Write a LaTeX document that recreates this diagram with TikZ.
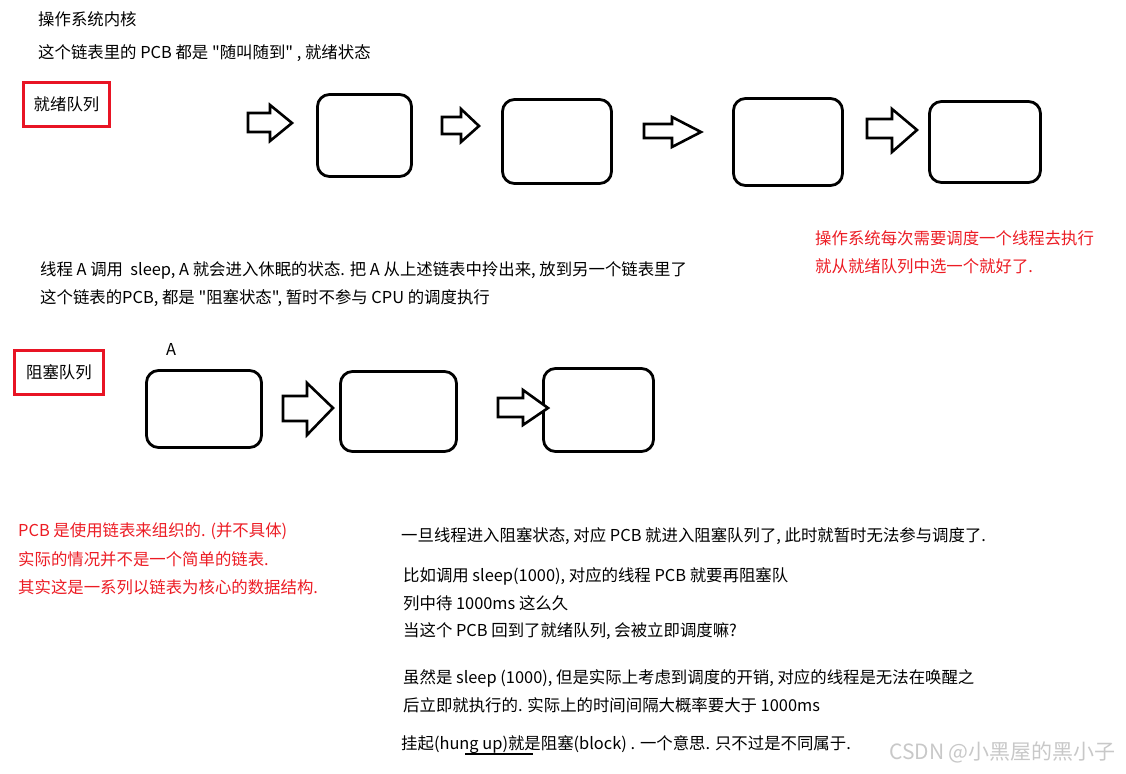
\documentclass[tikz,border=0pt]{standalone}
\usepackage{fontspec}
\newfontfamily\cjk{Noto Sans CJK SC}
\definecolor{redbox}{RGB}{232,20,36}
\definecolor{redtxt}{RGB}{236,28,36}
\definecolor{wm}{RGB}{200,200,200}
\tikzset{
  pcb/.style={draw=black,line width=2.8pt,rounded corners=12pt,inner sep=0pt,outer sep=0pt},
  qlabel/.style={draw=redbox,line width=3pt,inner sep=0pt,font=\cjk\fontsize{16.4}{18}\selectfont},
  blk/.style={draw=black,line width=2.6pt,fill=white,line join=miter},
  txt/.style={anchor=west,inner sep=0pt,font=\cjk\fontsize{16.4}{18}\selectfont},
  rtxt/.style={txt,text=redtxt},
}
\begin{document}
\begin{tikzpicture}[x=1pt,y=-1pt]
\useasboundingbox (0,0) rectangle (1126,773);
% top texts
\node[txt] (t1) at (38,19) {操作系统内核};
\node[txt] (t2) at (38,53) {这个链表里的 PCB 都是 "随叫随到" , 就绪状态};
% ready queue
\node[qlabel,minimum width=86pt,minimum height=44pt] (ready) at (66.5,104.5) {就绪队列};
\node[pcb,minimum width=94pt,minimum height=82pt] (r1) at (364.5,135.5) {};
\node[pcb,minimum width=109pt,minimum height=84pt] (r2) at (557,141.5) {};
\node[pcb,minimum width=109pt,minimum height=87pt] (r3) at (788,142) {};
\node[pcb,minimum width=111pt,minimum height=81pt] (r4) at (985,142) {};
\draw[blk] (248,113)--(270,113)--(270,105)--(292,123)--(270,141)--(270,132)--(248,132)--cycle;
\draw[blk] (442,117)--(461,117)--(461,109)--(479,126)--(461,142)--(461,134)--(442,134)--cycle;
\draw[blk] (644,124)--(672,124)--(672,117)--(701,132)--(672,147)--(672,138)--(644,138)--cycle;
\draw[blk] (867,119)--(892,119)--(892,109)--(917,130)--(892,152)--(892,138)--(867,138)--cycle;
% red note top right
\node[rtxt] (n1) at (815,238) {操作系统每次需要调度一个线程去执行};
\node[rtxt] (n2) at (815,266) {就从就绪队列中选一个就好了.};
% middle texts
\node[txt] (m1) at (40,270) {线程 A 调用\ \ sleep, A 就会进入休眠的状态. 把 A 从上述链表中拎出来, 放到另一个链表里了};
\node[txt] (m2) at (40,298) {这个链表的PCB, 都是 "阻塞状态", 暂时不参与 CPU 的调度执行};
% blocked queue
\node[qlabel,minimum width=89pt,minimum height=44pt] (block) at (59,372.5) {阻塞队列};
\node[txt] (la) at (166,349) {A};
\node[pcb,minimum width=115pt,minimum height=77pt] (b1) at (204,409) {};
\node[pcb,minimum width=116pt,minimum height=80pt] (b2) at (398.5,411.5) {};
\node[pcb,minimum width=110pt,minimum height=83pt] (b3) at (598.5,410) {};
\draw[blk] (283,396)--(307,396)--(307,383)--(333,408)--(307,435)--(307,421)--(283,421)--cycle;
\draw[blk] (498,398)--(523,398)--(523,390)--(548,408)--(523,425)--(523,417)--(498,417)--cycle;
% red notes bottom left
\node[rtxt] (p1) at (18,531) {PCB 是使用链表来组织的. (并不具体)};
\node[rtxt] (p2) at (18,559) {实际的情况并不是一个简单的链表.};
\node[rtxt] (p3) at (18,587) {其实这是一系列以链表为核心的数据结构.};
% bottom right texts
\node[txt] (q1) at (401,536) {一旦线程进入阻塞状态, 对应 PCB 就进入阻塞队列了, 此时就暂时无法参与调度了.};
\node[txt] (q2) at (403,576) {比如调用 sleep(1000), 对应的线程 PCB 就要再阻塞队};
\node[txt] (q3) at (403,603) {列中待 1000ms 这么久};
\node[txt] (q4) at (403,631) {当这个 PCB 回到了就绪队列, 会被立即调度嘛?};
\node[txt] (q5) at (403,678) {虽然是 sleep (1000), 但是实际上考虑到调度的开销, 对应的线程是无法在唤醒之};
\node[txt] (q6) at (403,705) {后立即就执行的. 实际上的时间间隔大概率要大于 1000ms};
\node[txt] (q7) at (401,745) {挂起(hung up)就是阻塞(block) . 一个意思. 只不过是不同属于.};
\draw[line width=1.2pt] (465,754) -- (533,754);
% watermark
\node[anchor=west,inner sep=0pt,text=wm,font=\cjk\fontsize{21}{23}\selectfont] (wmk) at (889,752) {CSDN @小黑屋的黑小子};
\end{tikzpicture}
\end{document}
